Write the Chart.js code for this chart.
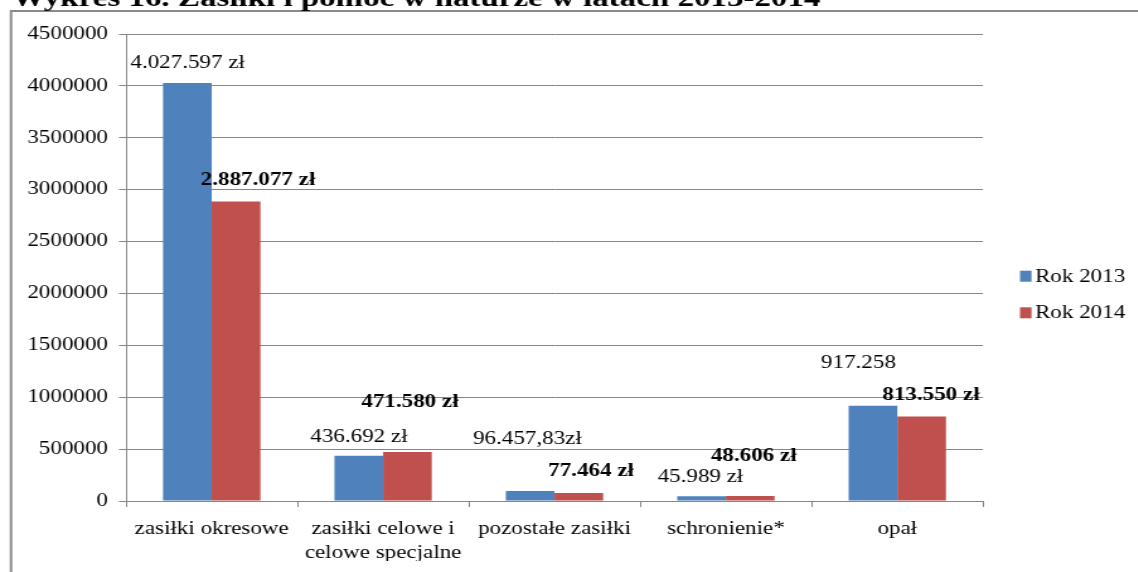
<!DOCTYPE html>
<html><head><meta charset="utf-8">
<script src="https://cdn.jsdelivr.net/npm/chart.js@4.4.0/dist/chart.umd.min.js"></script>
<style>
html,body{margin:0;padding:0;background:#fff;overflow:hidden;width:1138px;height:572px;}
#wrap{position:absolute;left:0;top:0;width:903px;height:572px;transform:scaleX(1.26);transform-origin:0 0;}
canvas{display:block;}
</style></head><body>
<div id="wrap"><canvas id="c" width="903" height="572"></canvas></div>
<script>
// ---- data ----
const categories = [["zasiłki okresowe"], ["zasiłki celowe i", "celowe specjalne"], ["pozostałe zasiłki"], ["schronienie*"], ["opał"]];
const seriesNames = ["Rok 2013", "Rok 2014"];
const values2013 = [4027597, 436692, 96457.83, 45989, 917258];
const values2014 = [2887077, 471580, 77464, 48606, 813550];
const valueLabels2013 = ["4.027.597 zł", "436.692 zł", "96.457,83zł", "45.989 zł", "917.258"];
const valueLabels2014 = ["2.887.077 zł", "471.580 zł", "77.464 zł", "48.606 zł", "813.550 zł"];
const yTickMin = 0, yTickMax = 4500000, yTickStep = 500000;
const titleText = "Wykres 16. Zasiłki i pomoc w naturze w latach 2013-2014";

// ---- label placement (screen px offsets from bar top-centre) ----
const labelDx2013 = [0.3, 0.2, -2.7, -1.1, -14.5];
const labelDy2013 = [-14.6, -14, -46.7, -14.5, -38.1];
const labelDx2014 = [22, 2.6, 12.2, 3.5, 9.4];
const labelDy2014 = [-16.3, -45.3, -17.3, -35.3, -16.5];

const S = 1.26; // horizontal stretch of the whole picture
const FONT = "Liberation Serif";
const FS = 18.3;
const GRID = "#868686";
const BLUE = "#4F81BD", RED = "#C0504D";

const extras = {
  id: 'extras',
  afterDatasetsDraw(chart) {
    const ctx = chart.ctx;
    const sets = [
      {dx: labelDx2013, dy: labelDy2013, txt: valueLabels2013, bold: false},
      {dx: labelDx2014, dy: labelDy2014, txt: valueLabels2014, bold: true}
    ];
    ctx.save();
    ctx.fillStyle = '#000';
    ctx.textAlign = 'center';
    ctx.textBaseline = 'alphabetic';
    sets.forEach((s, di) => {
      const meta = chart.getDatasetMeta(di);
      ctx.font = (s.bold ? 'bold ' : '') + FS + 'px "' + FONT + '"';
      meta.data.forEach((el, i) => {
        ctx.fillText(s.txt[i], el.x + s.dx[i] / S, el.y + s.dy[i]);
      });
    });
    ctx.restore();
  },
  afterDraw(chart) {
    const ctx = chart.ctx;
    ctx.save();
    // outer frame
    ctx.strokeStyle = '#8a8a8a';
    ctx.lineWidth = 2;
    ctx.beginPath();
    ctx.moveTo(11 / S, 600);
    ctx.lineTo(11 / S, 11);
    ctx.lineTo(1200 / S, 11);
    ctx.stroke();
    // title (cut at the top edge)
    ctx.fillStyle = '#000';
    ctx.font = 'bold 26.2px "' + FONT + '"';
    ctx.textAlign = 'left';
    ctx.textBaseline = 'alphabetic';
    ctx.fillText(titleText, 12 / S, 6);
    // legend
    ctx.font = FS + 'px "' + FONT + '"';
    const baselines = [281.7, 318.3];
    chart.data.datasets.forEach((ds, i) => {
      ctx.fillStyle = ds.backgroundColor;
      ctx.fillRect(1020 / S, baselines[i] - 11, 11.5 / S, 11);
      ctx.fillStyle = '#000';
      ctx.fillText(ds.label, 1035 / S, baselines[i]);
    });
    ctx.restore();
  }
};

new Chart(document.getElementById('c'), {
  type: 'bar',
  data: {
    labels: categories,
    datasets: [
      {label: seriesNames[0], data: values2013, backgroundColor: BLUE, borderWidth: 0},
      {label: seriesNames[1], data: values2014, backgroundColor: RED, borderWidth: 0}
    ]
  },
  options: {
    responsive: false,
    animation: false,
    devicePixelRatio: 1,
    datasets: {bar: {categoryPercentage: 0.568, barPercentage: 1}},
    layout: {padding: {left: 10, right: 903 - 983 / S, top: 34, bottom: 11}},
    plugins: {legend: {display: false}, title: {display: false}, tooltip: {enabled: false}},
    scales: {
      x: {
        grid: {display: true, drawOnChartArea: false, drawTicks: true, tickLength: 6, color: GRID, offset: true},
        border: {display: true, color: GRID, width: 1},
        ticks: {color: '#000', padding: 11, font: {family: FONT, size: FS, lineHeight: 1.27}, maxRotation: 0, autoSkip: false},
        afterFit(scale) { scale.height = 60; }
      },
      y: {
        min: yTickMin, max: yTickMax,
        grid: {color: GRID, drawTicks: true, tickLength: 5.6},
        border: {display: true, color: GRID, width: 1},
        ticks: {stepSize: yTickStep, color: '#000', padding: 8.7, font: {family: FONT, size: FS}, callback: v => String(v)},
        afterFit(scale) { scale.width = 100 - 10; }
      }
    }
  },
  plugins: [extras]
});
</script>
</body></html>
